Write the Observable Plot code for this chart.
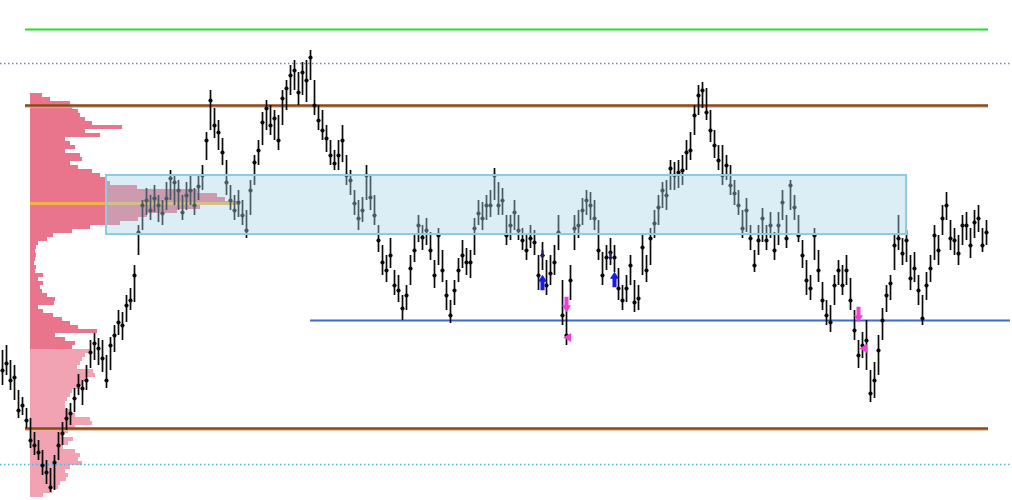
<!DOCTYPE html>
<html><head><meta charset="utf-8">
<script src="https://cdn.jsdelivr.net/npm/d3@7"></script>
<script src="https://cdn.jsdelivr.net/npm/@observablehq/plot@0.6"></script>
<style>
html,body{margin:0;padding:0;background:#fff;}
#chart{position:relative;width:1012px;height:500px;overflow:hidden;}
#chart svg{position:absolute;left:0;top:0;}
</style></head><body><div id="chart"></div>
<script>
// Prices are stored in pips above BASE
const BASE = 1.08, POINT = 0.0001, TOP = 1.13;
const closePips = [130,137,120,123,90,95,80,60,55,48,
35,28,13,38,55,67,82,87,102,115,
112,120,148,157,152,142,120,155,165,178,
175,195,200,225,268,295,300,290,302,295,
287,302,322,318,310,288,305,310,295,314,
325,360,400,375,368,348,318,300,290,298,
285,270,310,338,350,378,392,375,382,360,
402,412,425,430,408,428,420,443,395,380,
370,362,345,337,345,360,325,320,297,282,
290,325,303,285,260,238,230,245,215,210,
192,205,232,250,275,263,270,250,225,265,
230,205,185,210,230,245,238,238,272,287,
282,295,295,325,295,300,265,275,288,270,
260,250,262,258,225,245,215,227,238,268,
185,165,220,272,275,290,300,295,282,250,
225,243,248,243,212,200,212,235,198,202,
253,230,262,277,293,310,305,332,325,328,
330,348,350,385,405,410,388,370,355,340,
325,335,315,307,295,272,290,262,235,260,
282,260,275,250,275,298,262,315,293,265,
245,220,212,265,230,200,185,178,215,230,
215,230,200,170,145,155,160,107,120,150,
180,205,217,255,262,247,260,222,232,210,
182,215,232,265,250,282,295,262,260,247,
275,275,255,278,282,255,268];
const highPips = [150,155,140,135,110,103,92,82,68,60,
50,40,32,45,68,78,92,97,112,126,
120,135,160,167,162,160,145,163,175,190,
188,205,212,235,275,300,312,305,315,305,
300,318,330,325,320,305,318,325,312,325,
335,368,410,392,380,362,340,315,305,310,
300,290,320,345,360,388,400,395,390,385,
410,420,435,440,428,438,440,450,420,395,
390,375,360,350,360,375,345,330,310,300,
303,335,325,305,275,255,245,262,230,225,
205,215,245,265,285,275,282,268,240,272,
250,220,200,220,242,260,252,250,282,300,
298,305,310,332,318,312,285,285,300,285,
272,265,275,270,245,258,240,245,255,285,
220,190,235,285,290,302,310,308,300,280,
248,255,262,255,232,215,225,245,220,215,
265,245,272,290,305,318,320,340,338,340,
345,360,368,395,415,418,412,390,370,355,
355,345,335,320,310,290,302,275,250,275,
292,275,288,268,288,310,285,320,305,285,
260,240,225,272,250,218,200,195,225,240,
235,245,222,190,160,168,180,130,138,165,
192,215,225,265,285,262,270,245,248,225,
205,228,245,275,265,295,308,280,272,265,
285,288,272,290,295,272,280];
const lowPips = [115,125,110,100,82,85,72,52,45,40,
25,16,8,10,40,55,70,75,88,105,
95,110,132,140,135,128,112,130,148,165,
160,178,190,198,245,270,285,280,288,278,
275,290,300,295,290,280,290,295,285,300,
310,340,370,362,350,335,305,290,280,283,
275,262,285,315,335,355,370,365,360,350,
375,390,405,410,395,405,398,420,385,370,
360,348,335,330,330,338,315,305,285,270,
278,300,290,275,248,225,218,232,205,198,
180,190,215,238,258,250,255,240,212,235,
218,190,177,195,218,232,225,222,245,275,
270,280,283,300,285,285,255,260,270,260,
250,240,252,245,210,230,205,215,225,250,
175,155,200,250,262,275,285,280,270,240,
215,230,235,228,200,190,198,215,188,190,
225,218,235,262,275,292,290,310,310,312,
315,330,340,365,385,392,380,358,342,330,
315,320,305,295,285,262,268,250,228,245,
258,250,262,240,255,280,252,290,280,258,
232,205,200,240,218,190,175,168,195,215,
205,215,190,160,132,142,130,98,102,125,
160,188,200,230,250,235,238,210,218,195,
175,200,218,240,235,265,280,250,245,235,
255,260,242,262,268,248,255];

// Volume profile, bins listed from the top price downwards
const profileTopPips = 407;
const profileBinPips = 4;
const profileVolumes = [12,20,40,42,48,50,55,62,92,55,
70,35,40,45,35,50,52,40,48,62,
70,75,80,107,167,187,195,210,170,147,
117,108,90,60,42,23,17,8,6,5,
6,5,4,6,5,13,8,13,10,12,
17,25,24,8,13,23,32,40,48,67,
25,35,45,42,
60,55,52,50,47,63,65,55,52,50,
42,40,37,35,35,40,45,60,62,45,
38,33,43,38,33,45,50,48,52,40,
35,38,36,30,28,22,13];
const profileSplitPrice = 1.0951;

// Levels and zone
const greenLevel = 1.1271;
const brownLevels = [1.1195, 1.0872];
const dottedUpper = 1.1237;
const dottedLower = 1.0836;
const supportLevel = 1.0980;
const levelSpanBars = [5.75, 246.5];
const supportSpanBars = [77, 252];
const zonePrices = [1.1066, 1.1125];
const zoneBars = [26, 226];

// Signals
const buyBars = [135, 153], buyPrices = [1.1018, 1.1021];
const markBars = [135, 152], markPrices = [1.1046, 1.1044];
const sellBars = [141, 214], sellPrices = [1.0996, 1.0986];
const exitBars = [141, 215], exitPrices = [1.0963, 1.0952];

const bars = closePips.map((c, i) => ({
  i, close: BASE + c * POINT, high: BASE + highPips[i] * POINT, low: BASE + lowPips[i] * POINT
}));
const profile = profileVolumes.map((v, k) => {
  const hi = BASE + (profileTopPips - k * profileBinPips) * POINT;
  const lo = hi - profileBinPips * POINT;
  return {v, lo, hi, lower: hi <= profileSplitPrice + 1e-9};
});
const pocBin = profile.reduce((a, b) => (b.v > a.v ? b : a));
const poc = {price: (pocBin.lo + pocBin.hi) / 2, v: pocBin.v};

const sig = (bs, ps) => bs.map((b, k) => ({i: b, price: ps[k]}));
const arrowUp = {
  draw(ctx, size) {
    const r = Math.sqrt(size / Math.PI);
    ctx.moveTo(0, -1.6 * r);
    ctx.lineTo(0.95 * r, -0.15 * r);
    ctx.lineTo(0.42 * r, -0.15 * r);
    ctx.lineTo(0.42 * r, 1.6 * r);
    ctx.lineTo(-0.42 * r, 1.6 * r);
    ctx.lineTo(-0.42 * r, -0.15 * r);
    ctx.lineTo(-0.95 * r, -0.15 * r);
    ctx.closePath();
  }
};

const yScale = {domain: [BASE, TOP], axis: null};

const profilePlot = Plot.plot({
  width: 1012, height: 500, margin: 0, marginLeft: 30,
  x: {domain: [0, 982], axis: null},
  y: yScale,
  style: {background: "transparent"},
  marks: [
    Plot.rect(profile, {x1: 0, x2: "v", y1: "lo", y2: "hi",
      fill: d => d.lower ? "#f1a3b3" : "#e8758b", shapeRendering: "crispEdges"}),
    Plot.ruleY([poc], {y: "price", x1: 0, x2: "v", stroke: "#f2b24e", strokeWidth: 3})
  ]
});

const mainPlot = Plot.plot({
  width: 1012, height: 500, margin: 0,
  x: {domain: [-0.5, 252.5], axis: null},
  y: yScale,
  style: {background: "transparent"},
  marks: [
    Plot.ruleY([greenLevel], {x1: levelSpanBars[0], x2: levelSpanBars[1], stroke: "#22e022", strokeWidth: 2}),
    Plot.ruleY([dottedUpper], {stroke: "#6a8db5", strokeWidth: 1.5, strokeDasharray: "1.5,2.5"}),
    Plot.ruleY([dottedLower], {stroke: "#48b9e8", strokeWidth: 1.5, strokeDasharray: "1.5,2.5"}),
    Plot.ruleY(brownLevels, {x1: levelSpanBars[0], x2: levelSpanBars[1], stroke: "#e2b48a", strokeWidth: 1.5, dy: 1.5}),
    Plot.ruleY(brownLevels, {x1: levelSpanBars[0], x2: levelSpanBars[1], stroke: "#8a4a1c", strokeWidth: 2.5}),
    Plot.ruleY([supportLevel], {x1: supportSpanBars[0], x2: supportSpanBars[1], stroke: "#3f6bd0", strokeWidth: 2}),
    Plot.ruleX(bars, {x: "i", y1: "low", y2: "high", stroke: "#0a0a0a", strokeWidth: 1.7}),
    Plot.dot(bars, {x: "i", y: "close", r: 2.1, fill: "#0a0a0a"}),
    Plot.dot(sig(buyBars, buyPrices), {x: "i", y: "price", symbol: arrowUp, r: 4.8, fill: "#1a1ae6"}),
    Plot.dot(sig(markBars, markPrices), {x: "i", y: "price", symbol: arrowUp, r: 2.6, rotate: 180, fill: "#1c1c7a"}),
    Plot.dot(sig(sellBars, sellPrices), {x: "i", y: "price", symbol: arrowUp, r: 4.8, rotate: 180, fill: "#f23fd6"}),
    Plot.dot(sig(exitBars, exitPrices), {x: "i", y: "price", symbol: "triangle", r: 3.4, rotate: -90, fill: "#f23fd6", dx: 2}),
    Plot.rect([{}], {x1: zoneBars[0], x2: zoneBars[1], y1: zonePrices[0], y2: zonePrices[1],
      fill: "#a6d2e6", fillOpacity: 0.4, stroke: "#8ecae6", strokeWidth: 2})
  ]
});

const el = document.getElementById("chart");
el.appendChild(profilePlot);
el.appendChild(mainPlot);
</script></body></html>
